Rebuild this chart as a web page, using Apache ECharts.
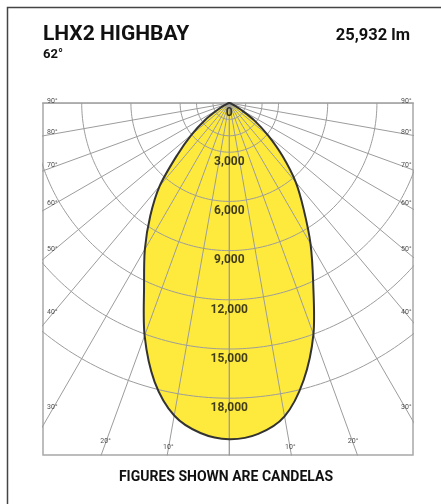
<!DOCTYPE html>
<html><head><meta charset="utf-8">
<script src="https://cdn.jsdelivr.net/npm/echarts@6/dist/echarts.min.js"></script>
<style>html,body{margin:0;padding:0;background:#fff}#c{width:441px;height:504px}</style>
</head><body><div id="c"></div>
<script>
// ---- data ----
const angles        = [0, 5, 10, 15, 20, 25, 30, 35, 40, 45, 50, 55, 60, 65, 70, 75, 80, 85, 90];
const candelaLeft   = [20500, 20200, 19350, 17600, 15100, 12300, 10300, 8400, 6600, 4500, 3000, 1800, 800, 350, 150, 60, 20, 0, 0];
const candelaRight  = [20500, 20250, 19400, 17500, 15000, 12100, 9900, 7900, 6300, 4600, 3100, 1900, 850, 350, 150, 60, 20, 0, 0];
const ringValues    = [3000, 6000, 9000, 12000, 15000, 18000];
const minorRings    = [1000, 2000];
const ringLabelValues = [0, 3000, 6000, 9000, 12000, 15000, 18000];
const ringLabels    = ['0', '3,000', '6,000', '9,000', '12,000', '15,000', '18,000'];
const spokeAngles   = [0, 10, 20, 30, 40, 50, 60, 70, 80, 90];
const sideTickAngles = [30, 40, 50, 60, 70, 80, 90];
const bottomTickAngles = [10, 20];
const tickLabels    = {10:'10°', 20:'20°', 30:'30°', 40:'40°', 50:'50°', 60:'60°', 70:'70°', 80:'80°', 90:'90°'};
const titleText = 'LHX2 HIGHBAY';
const beamText = '62°';
const lumenText = '25,932 lm';
const footText = 'FIGURES SHOWN ARE CANDELAS';

// ---- helpers ----
const rad = d => d * Math.PI / 180;
const P = (a, r) => [r * Math.sin(rad(a)), -r * Math.cos(rad(a))]; // a<0 left
let outline = [];
for (let i = angles.length - 1; i >= 0; i--) outline.push(P(-angles[i], candelaLeft[i]));
for (let i = 1; i < angles.length; i++) outline.push(P(angles[i], candelaRight[i]));
outline = outline.filter((p, i, arr) => i === 0 || Math.hypot(p[0]-arr[i-1][0], p[1]-arr[i-1][1]) > 1);
if (Math.hypot(outline[0][0]-outline[outline.length-1][0], outline[0][1]-outline[outline.length-1][1]) < 1) outline.pop();

const gridStyle = {color: '#9c9c9c', width: 1};
const series = [];
series.push({
  type: 'custom', coordinateSystem: 'cartesian2d', z: 1, silent: true,
  data: [[0, 0]],
  renderItem: (params, api) => ({
    type: 'polygon',
    shape: {points: outline.map(p => api.coord(p)), smooth: 0.3},
    style: {fill: '#FEEA3C', stroke: null}
  })
});
function arc(r) {
  const d = [];
  for (let a = -90; a <= 90; a += 1) d.push(P(a, r));
  return d;
}
ringValues.concat(minorRings).forEach(r => series.push({
  type: 'line', data: arc(r), showSymbol: false, symbol: 'none', z: 2, silent: true,
  lineStyle: gridStyle, clip: true
}));
spokeAngles.forEach(a => {
  [a, -a].forEach(s => series.push({
    type: 'line', data: [[0, 0], P(s, 40000)], showSymbol: false, symbol: 'none', z: 2, silent: true,
    lineStyle: gridStyle, clip: true
  }));
});
series.push({
  type: 'custom', coordinateSystem: 'cartesian2d', z: 3, silent: true,
  data: [[0, 0]],
  renderItem: (params, api) => ({
    type: 'polygon',
    shape: {points: outline.map(p => api.coord(p)), smooth: 0.3},
    style: {fill: null, stroke: '#333333', lineWidth: 2}
  })
});
series.push({
  type: 'scatter', z: 4, symbolSize: 0, silent: true,
  data: ringLabelValues.map((v, i) => ({value: [0, -(v + 600)], name: ringLabels[i]})),
  label: {show: true, position: 'inside', formatter: p => p.name,
          fontFamily: 'Roboto', fontWeight: 'bold', fontSize: 12, color: '#111'}
});
const PX = 0.0164; // px per cd, only to put angle labels near the box edge
const sideX = 177 / PX;
const angData = [];
sideTickAngles.forEach(a => {
  const y = a === 90 ? 0 : -sideX / Math.tan(rad(a));
  angData.push({value: [-sideX, y], name: tickLabels[a]});
  angData.push({value: [sideX, y], name: tickLabels[a]});
});
const bottomY = {10: 346 / PX, 20: 340 / PX};
bottomTickAngles.forEach(a => {
  const y = bottomY[a], x = y * Math.tan(rad(a));
  angData.push({value: [-x, -y], name: tickLabels[a]});
  angData.push({value: [x, -y], name: tickLabels[a]});
});
series.push({
  type: 'scatter', z: 4, symbolSize: 0, silent: true, data: angData,
  label: {show: true, position: 'inside', offset: [0, -2], formatter: p => p.name,
          fontFamily: 'Roboto', fontSize: 7, color: '#222'}
});

const chart = echarts.init(document.getElementById('c'), null, {renderer: 'canvas'});
chart.setOption({
  animation: false,
  backgroundColor: '#fff',
  grid: {left: 43, right: 28, top: 103, bottom: 49, show: true, borderColor: '#a8a8a8', borderWidth: 1.5, backgroundColor: 'transparent'},
  xAxis: {type: 'value', min: -11360, max: 11200, show: false},
  yAxis: {type: 'value', min: -21463, max: 0, show: false},
  series: series,
  graphic: [
    {type: 'rect', shape: {x: 7.5, y: 7.5, width: 460, height: 520}, style: {fill: null, stroke: '#444', lineWidth: 1.5}, silent: true},
    {type: 'text', style: {x: 43, y: 35, text: titleText, font: 'bold 21px Roboto', fill: '#111', textAlign: 'left', textVerticalAlign: 'middle'}},
    {type: 'text', style: {x: 43, y: 55, text: beamText, font: 'bold 13px Roboto', fill: '#111', textAlign: 'left', textVerticalAlign: 'middle'}},
    {type: 'text', style: {x: 410, y: 36, text: lumenText, font: 'bold 16.5px Roboto', fill: '#111', textAlign: 'right', textVerticalAlign: 'middle'}},
    {type: 'text', style: {x: 226, y: 477, text: footText, font: 'bold 14px Roboto', fill: '#111', textAlign: 'center', textVerticalAlign: 'middle'}}
  ]
});
</script></body></html>
